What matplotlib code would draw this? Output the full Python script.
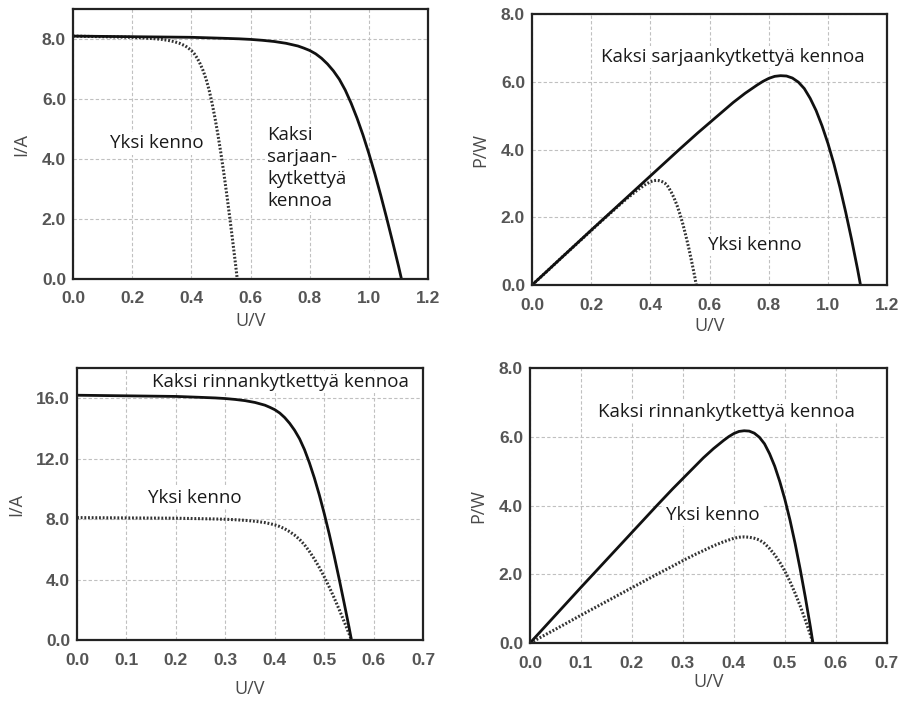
import numpy as np
import matplotlib.pyplot as plt

# values
u_cell = [0.00, 0.05, 0.10, 0.15, 0.20, 0.25, 0.28, 0.30, 0.32, 0.34, 0.36, 0.38, 0.39,
          0.40, 0.41, 0.42, 0.43, 0.44, 0.45, 0.46, 0.47, 0.48, 0.49, 0.50, 0.51, 0.52, 0.53,
          0.54, 0.55, 0.555]
u_series = [0.00, 0.10, 0.20, 0.30, 0.40, 0.50, 0.56, 0.60, 0.64, 0.68, 0.72, 0.76, 0.78,
            0.80, 0.82, 0.84, 0.86, 0.88, 0.90, 0.92, 0.94, 0.96, 0.98, 1.00, 1.02, 1.04, 1.06,
            1.08, 1.10, 1.11]

i_cell = [8.10, 8.09, 8.08, 8.07, 8.06, 8.03, 8.01, 7.99, 7.96, 7.92, 7.86, 7.77, 7.70,
          7.62, 7.51, 7.36, 7.17, 6.94, 6.66, 6.30, 5.86, 5.36, 4.80, 4.18, 3.51, 2.79, 2.03,
          1.24, 0.43, 0.00]
i_parallel = [16.20, 16.18, 16.16, 16.14, 16.12, 16.06, 16.02, 15.98, 15.92, 15.84, 15.72, 15.54, 15.40,
              15.24, 15.02, 14.72, 14.34, 13.88, 13.32, 12.60, 11.72, 10.72, 9.60, 8.36, 7.02, 5.58, 4.06,
              2.48, 0.86, 0.00]

p_cell = [0.00, 0.40, 0.81, 1.21, 1.61, 2.01, 2.24, 2.40, 2.55, 2.69, 2.83, 2.95, 3.00,
          3.05, 3.08, 3.09, 3.08, 3.05, 3.00, 2.90, 2.75, 2.57, 2.35, 2.09, 1.79, 1.45, 1.08,
          0.67, 0.24, 0.00]
p_double = [0.00, 0.81, 1.62, 2.42, 3.22, 4.02, 4.49, 4.79, 5.09, 5.39, 5.66, 5.90, 6.01,
            6.10, 6.16, 6.18, 6.17, 6.11, 5.99, 5.80, 5.51, 5.15, 4.70, 4.18, 3.58, 2.90, 2.15,
            1.34, 0.47, 0.00]

x_ticks_wide = [0.0, 0.2, 0.4, 0.6, 0.8, 1.0, 1.2]
x_ticks_narrow = [0.0, 0.1, 0.2, 0.3, 0.4, 0.5, 0.6, 0.7]

txt_font = ['Open Sans', 'DejaVu Sans']
tick_font = 'Liberation Sans'

fig = plt.figure(figsize=(8.99, 7.01), dpi=100)
fig.patch.set_facecolor('white')

ax_tl = fig.add_axes([0.0812, 0.602, 0.395, 0.385])
ax_tr = fig.add_axes([0.5918, 0.5934, 0.395, 0.3866])
ax_bl = fig.add_axes([0.0857, 0.087, 0.385, 0.388])
ax_br = fig.add_axes([0.5895, 0.0827, 0.397, 0.392])


def style(ax, xticks, yticks, xmax, ymax, ylabel, xpad=6):
    ax.set_xlim(0, xmax)
    ax.set_ylim(0, ymax)
    ax.set_xticks(xticks)
    ax.set_yticks(yticks)
    ax.set_xticklabels([f"{v:.1f}" for v in xticks])
    ax.set_yticklabels([f"{v:.1f}" for v in yticks])
    ax.grid(True, color='#c0c0c0', linestyle=(0, (3, 2)), linewidth=0.8)
    ax.set_axisbelow(True)
    for s in ax.spines.values():
        s.set_linewidth(1.6)
        s.set_color('#222222')
    ax.tick_params(length=0, labelsize=12.5, labelcolor='#555555')
    ax.tick_params(axis='x', pad=9)
    ax.tick_params(axis='y', pad=5)
    for lab in ax.get_xticklabels() + ax.get_yticklabels():
        lab.set_fontfamily(tick_font)
        lab.set_fontweight('bold')
    ax.set_xlabel('U/V', fontsize=13, color='#4a4a4a', family=txt_font, labelpad=xpad)
    ax.set_ylabel(ylabel, fontsize=13, color='#4a4a4a', family=txt_font, labelpad=8)


def note(ax, x, y, s, **kw):
    ax.text(x, y, s, fontsize=13.5, family=txt_font, color='#1a1a1a', va='center', ha='left',
            bbox=dict(facecolor='white', edgecolor='none', pad=1.5), **kw)


solid = dict(color='#111111', linewidth=2.0, solid_capstyle='round', solid_joinstyle='round')
dotted = dict(color='#333333', linewidth=2.2, linestyle=(0, (0.6, 0.6)))

# top left: I-U, series
ax_tl.plot(u_cell, i_cell, **dotted)
ax_tl.plot(u_series, i_cell, **solid)
style(ax_tl, x_ticks_wide, [0, 2, 4, 6, 8], 1.2, 9.0, 'I/A', xpad=4)
note(ax_tl, 0.125, 4.52, 'Yksi kenno')
note(ax_tl, 0.656, 3.70, 'Kaksi\nsarjaan-\nkytkettyä\nkennoa', linespacing=1.3)

# top right: P-U, series
ax_tr.plot(u_cell, p_cell, **dotted)
ax_tr.plot(u_series, p_double, **solid)
style(ax_tr, x_ticks_wide, [0, 2, 4, 6, 8], 1.2, 8.0, 'P/W', xpad=3)
note(ax_tr, 0.233, 6.73, 'Kaksi sarjaankytkettyä kennoa')
note(ax_tr, 0.595, 1.18, 'Yksi kenno')

# bottom left: I-U, parallel
ax_bl.plot(u_cell, i_cell, **dotted)
ax_bl.plot(u_cell, i_parallel, **solid)
style(ax_bl, x_ticks_narrow, [0, 4, 8, 12, 16], 0.7, 18.0, 'I/A', xpad=9)
note(ax_bl, 0.152, 17.06, 'Kaksi rinnankytkettyä kennoa')
note(ax_bl, 0.1436, 9.39, 'Yksi kenno')

# bottom right: P-U, parallel
ax_br.plot(u_cell, p_cell, **dotted)
ax_br.plot(u_cell, p_double, **solid)
style(ax_br, x_ticks_narrow, [0, 2, 4, 6, 8], 0.7, 8.0, 'P/W', xpad=2)
note(ax_br, 0.133, 6.72, 'Kaksi rinnankytkettyä kennoa')
note(ax_br, 0.267, 3.72, 'Yksi kenno')

fig.savefig('out.png', dpi=100)
